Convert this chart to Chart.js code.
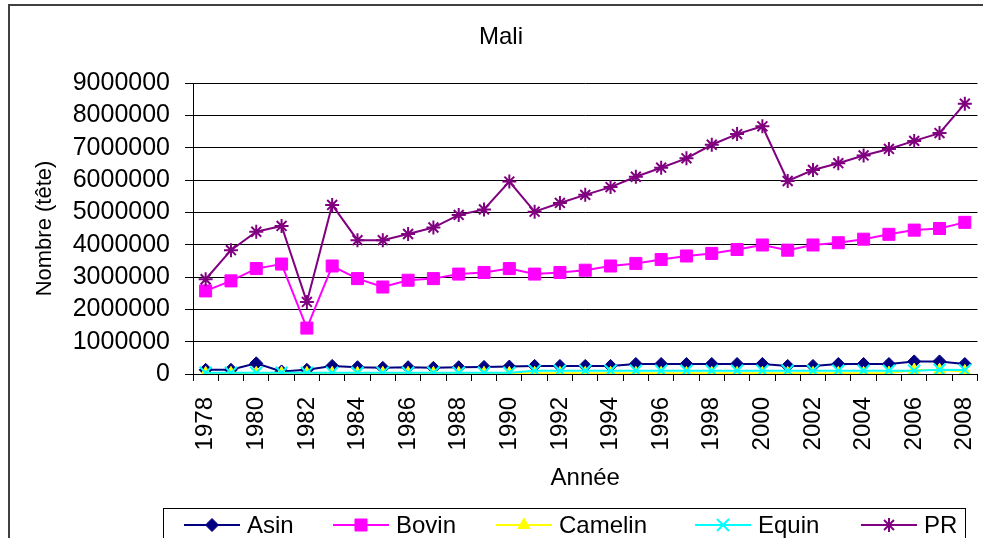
<!DOCTYPE html>
<html>
<head>
<meta charset="utf-8">
<script src="https://cdn.jsdelivr.net/npm/chart.js@4.4.0/dist/chart.umd.min.js"></script>
<style>
html,body{margin:0;padding:0;background:#fff;overflow:hidden;width:983px;height:538px;}
#wrap{position:absolute;left:0;top:0;width:1010px;height:560px;}
canvas{display:block;}
</style>
</head>
<body>
<div id="wrap"><canvas id="c" width="1010" height="560" style="width:1010px;height:560px"></canvas></div>
<script>
// ---- data ----
const years = ['1978','1979','1980','1981','1982','1983','1984','1985','1986','1987','1988','1989','1990','1991','1992','1993','1994','1995','1996','1997','1998','1999','2000','2001','2002','2003','2004','2005','2006','2007','2008'];
const yTicks = [0,1000000,2000000,3000000,4000000,5000000,6000000,7000000,8000000,9000000];
const asin = [130000,130000,330000,80000,130000,250000,210000,190000,210000,190000,210000,220000,230000,250000,250000,250000,250000,310000,310000,310000,310000,310000,310000,250000,250000,310000,310000,310000,390000,390000,310000];
const bovin = [2570000,2880000,3260000,3400000,1420000,3340000,2950000,2690000,2900000,2950000,3090000,3140000,3260000,3090000,3140000,3210000,3340000,3420000,3540000,3650000,3730000,3850000,3990000,3830000,3990000,4060000,4170000,4320000,4450000,4500000,4690000];
const camelin = [20000,20000,20000,20000,20000,20000,20000,20000,20000,20000,20000,20000,20000,20000,20000,20000,20000,20000,20000,20000,20000,20000,20000,20000,20000,20000,20000,30000,120000,120000,80000];
const equin = [40000,40000,40000,40000,40000,40000,40000,40000,40000,40000,40000,40000,40000,100000,100000,100000,100000,100000,100000,100000,100000,100000,100000,100000,100000,100000,100000,100000,100000,130000,120000];
const pr = [2930000,3830000,4400000,4580000,2230000,5230000,4140000,4140000,4330000,4530000,4920000,5090000,5950000,5020000,5290000,5540000,5780000,6100000,6380000,6670000,7090000,7420000,7660000,5970000,6310000,6520000,6760000,6960000,7210000,7450000,8360000];

const FONT = '"Liberation Sans", Arial, sans-serif';
Chart.defaults.font.family = FONT;
Chart.defaults.color = '#000';

function series(label, data, color, style, radius, bw, order) {
  return {
    label, data, order,
    borderColor: color, backgroundColor: color,
    borderWidth: 2, tension: 0,
    pointStyle: style, pointRadius: radius, pointHoverRadius: radius,
    pointBackgroundColor: color, pointBorderColor: color, pointBorderWidth: bw
  };
}

const legendX = [184, 333, 496, 695, 861];

const framePlugin = {
  id: 'framePlugin',
  beforeDraw(chart) {
    const ctx = chart.ctx;
    ctx.save();
    ctx.fillStyle = '#fff';
    ctx.fillRect(0, 0, chart.width, chart.height);
    ctx.strokeStyle = '#404040';
    ctx.lineWidth = 2;
    ctx.strokeRect(9, 5, 1100, 700);
    ctx.restore();
  },
  afterDraw(chart) {
    const ctx = chart.ctx;
    ctx.save();
    ctx.strokeStyle = '#000';
    ctx.lineWidth = 1;
    ctx.strokeRect(163.5, 508.5, 802, 80);
    const y = 525;
    chart.data.datasets.forEach((ds, i) => {
      const x0 = legendX[i];
      ctx.strokeStyle = ds.borderColor;
      ctx.lineWidth = 2;
      ctx.beginPath();
      ctx.moveTo(x0, y);
      ctx.lineTo(x0 + 56, y);
      ctx.stroke();
      ctx.fillStyle = ds.pointBackgroundColor;
      ctx.strokeStyle = ds.pointBorderColor;
      ctx.lineWidth = ds.pointBorderWidth;
      Chart.helpers.drawPoint(ctx, {pointStyle: ds.pointStyle, radius: ds.pointRadius, borderWidth: ds.pointBorderWidth, rotation: 0}, x0 + 28, y);
      ctx.fillStyle = '#000';
      ctx.font = '24px ' + FONT;
      ctx.textBaseline = 'middle';
      ctx.textAlign = 'left';
      ctx.fillText(ds.label, x0 + 63, y + 1);
    });
    ctx.restore();
  }
};

new Chart(document.getElementById('c'), {
  type: 'line',
  data: {
    labels: years,
    datasets: [
      series('Asin', asin, '#000080', 'rectRot', 6.5, 1, 5),
      series('Bovin', bovin, '#FF00FF', 'rect', 8.5, 1, 4),
      series('Camelin', camelin, '#FFFF00', 'triangle', 7, 1, 3),
      series('Equin', equin, '#00FFFF', 'crossRot', 8.5, 2, 2),
      series('PR', pr, '#800080', 'star', 7, 2, 1)
    ]
  },
  options: {
    responsive: false,
    animation: false,
    devicePixelRatio: 1,
    layout: { padding: { left: 15, right: 23, top: 0, bottom: 0 } },
    plugins: {
      legend: { display: false },
      tooltip: { enabled: false },
      title: {
        display: true, text: 'Mali', color: '#000',
        font: { size: 24, weight: 'normal', lineHeight: 1.2 },
        padding: { top: 23, bottom: 31.2 }
      }
    },
    scales: {
      x: {
        offset: true,
        grid: { offset: true, drawOnChartArea: false, drawTicks: true, tickLength: 7, color: '#000' },
        border: { color: '#000', width: 1 },
        ticks: {
          autoSkip: false, maxRotation: 90, minRotation: 90, padding: 16,
          font: { size: 24 }, color: '#000',
          callback: function (val, idx) { return idx % 2 === 0 ? this.getLabelForValue(val) : ''; }
        },
        title: { display: true, text: 'Année', color: '#000', font: { size: 24, lineHeight: 1.2 }, padding: { top: 0, bottom: 67 } },
        afterFit(scale) { scale.height = 186; }
      },
      y: {
        min: 0, max: 9000000,
        afterBuildTicks(scale) { scale.ticks = yTicks.map(v => ({ value: v })); },
        grid: { color: '#000', lineWidth: 1, drawTicks: true, tickLength: 8 },
        border: { color: '#000', width: 1 },
        ticks: { autoSkip: false, padding: 15, font: { size: 25 }, color: '#000', callback: v => String(v) },
        title: { display: true, text: 'Nombre (tête)', color: '#000', font: { size: 22, lineHeight: 1.2 }, padding: { top: 17, bottom: 0 } },
        afterFit(scale) { scale.width = 178; }
      }
    }
  },
  plugins: [framePlugin]
});
</script>
</body>
</html>
